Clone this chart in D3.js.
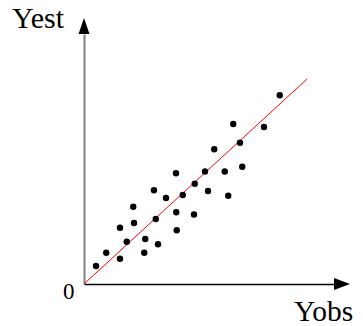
<!DOCTYPE html>
<html>
<head>
<meta charset="utf-8">
<style>
  body { margin: 0; background: #fff; }
  svg text { font-family: "Liberation Serif", "Times New Roman", serif; fill: #000; }
</style>
</head>
<body>
<svg width="363" height="326"></svg>

<script src="https://d3js.org/d3.v7.min.js"></script>
<script>

// observed values (axis units 0..100)
var yobs = [4.8, 8.9, 14.4, 14.4, 17.1, 19.7, 20.0, 24.1, 24.5, 28.0,
            28.7, 29.6, 32.8, 36.8, 36.9, 37.1, 39.5, 44.3, 44.0, 48.4,
            49.6, 52.1, 56.3, 57.7, 59.7, 62.4, 63.3, 72.0, 78.3];
// estimated values
var yest = [7.2, 12.5, 10.1, 22.5, 16.9, 30.9, 24.4, 12.5, 18.0, 37.5,
            26.0, 15.9, 34.4, 44.3, 28.7, 21.5, 35.6, 40.1, 27.8, 45.0,
            37.2, 53.9, 45.0, 35.3, 64.0, 56.5, 46.9, 62.8, 75.5];

// fitted line end points
var fitX = [0, 89.2];
var fitY = [0, 82];

var svg = d3.select("svg");

var x = d3.scaleLinear().domain([0, 100]).range([84, 334]);
var y = d3.scaleLinear().domain([0, 100]).range([284, 34]);

// x axis (black)
var gx = svg.append("g")
    .attr("transform", "translate(0," + y(0) + ")")
    .call(d3.axisBottom(x).ticks(0).tickSizeOuter(0));
gx.select(".domain").attr("stroke", "#000").attr("stroke-width", 1.3);

// y axis (grey)
var gy = svg.append("g")
    .attr("transform", "translate(" + x(0) + ",0)")
    .call(d3.axisLeft(y).ticks(0).tickSizeOuter(0));
gy.select(".domain").attr("stroke", "#808080").attr("stroke-width", 2);

// arrow heads
var xEnd = x.range()[1], yEnd = y.range()[1];
svg.append("path")
    .attr("d", "M" + xEnd + "," + (y(0) - 6) + "L" + (xEnd + 16) + "," + y(0) + "L" + xEnd + "," + (y(0) + 6) + "Z")
    .attr("fill", "#000");
svg.append("path")
    .attr("d", "M" + (x(0) - 5.5) + "," + yEnd + "L" + x(0) + "," + (yEnd - 16) + "L" + (x(0) + 5.5) + "," + yEnd + "Z")
    .attr("fill", "#000");

// fitted line
svg.append("line")
    .attr("x1", x(fitX[0])).attr("y1", y(fitY[0]))
    .attr("x2", x(fitX[1])).attr("y2", y(fitY[1]))
    .attr("stroke", "#ff0000")
    .attr("stroke-width", 1);

// points
svg.selectAll(".dot")
    .data(yobs)
    .enter().append("circle")
    .attr("class", "dot")
    .attr("cx", function(d) { return x(d); })
    .attr("cy", function(d, i) { return y(yest[i]); })
    .attr("r", 3.2)
    .attr("fill", "#000");

// labels
svg.append("text").attr("x", 12).attr("y", 28).attr("font-size", 30).text("Yest");
svg.append("text").attr("x", 294).attr("y", 321).attr("font-size", 29.5).text("Yobs");
svg.append("text").attr("x", 63).attr("y", 299).attr("font-size", 23).text("0");

</script>
</body>
</html>
